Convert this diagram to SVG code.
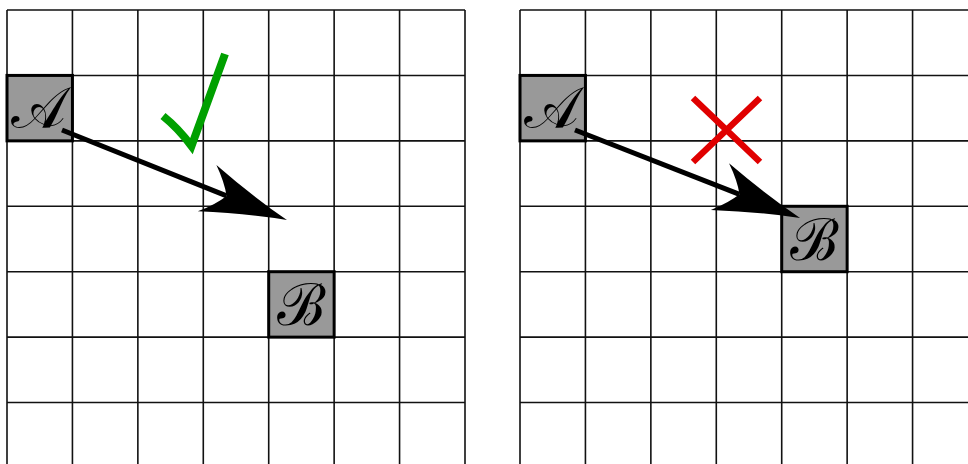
<svg xmlns="http://www.w3.org/2000/svg" width="968" height="464" viewBox="0 0 968 464">
<style>
.grid{fill:none;stroke:#111;stroke-width:1.6}
.node rect{fill:#999;stroke:#000;stroke-width:3}
.node text{font-family:"DejaVu Serif","Liberation Serif",serif;font-size:58px;text-anchor:middle;dominant-baseline:central;fill:#000}
.conn{fill:none;stroke:#000;stroke-width:5}
</style>
<defs>
<marker id="head" markerUnits="userSpaceOnUse" viewBox="-90 -30 95 60" markerWidth="95" markerHeight="60" refX="-65" refY="0" orient="auto" overflow="visible">
<path d="M0,0 Q-40,-9 -86,-25 Q-72,-12 -65,0 Q-72,12 -86,25 Q-40,9 0,0 Z" fill="#000"/>
</marker>
</defs>
<rect width="968" height="464" fill="#fff"/>
<g id="grid-left" class="grid">
<path d="M7,10V464M72.43,10V464M137.86,10V464M203.29,10V464M268.71,10V464M334.14,10V464M399.57,10V464M465,10V464"/>
<path d="M7,10H465M7,75.43H465M7,140.86H465M7,206.29H465M7,271.71H465M7,337.14H465M7,402.57H465"/>
</g>
<g id="grid-right" class="grid">
<path d="M520,10V464M585.43,10V464M650.86,10V464M716.29,10V464M781.71,10V464M847.14,10V464M912.57,10V464"/>
<path d="M520,10H968M520,75.43H968M520,140.86H968M520,206.29H968M520,271.71H968M520,337.14H968M520,402.57H968"/>
</g>
<g id="nodeA-left" class="node"><rect x="7" y="75.43" width="65.43" height="65.43"/><text x="38" y="108">𝒜</text></g>
<g id="nodeB-left" class="node"><rect x="268.71" y="271.71" width="65.43" height="65.43"/><text x="301.5" y="305">ℬ</text></g>
<g id="nodeA-right" class="node"><rect x="520" y="75.43" width="65.43" height="65.43"/><text x="551" y="108">𝒜</text></g>
<g id="nodeB-right" class="node"><rect x="781.71" y="206.29" width="65.43" height="65.43"/><text x="814.5" y="239.5">ℬ</text></g>
<g id="connectors">
<path class="conn" d="M62,130L226.6,195.9" marker-end="url(#head)"/>
<path class="conn" d="M575,130L739.5,194.3" marker-end="url(#head)"/>
</g>
<g id="check"><path d="M163,116 Q178,128 191.5,146 L225,54" fill="none" stroke="#00a000" stroke-width="8" stroke-linejoin="miter"/></g>
<g id="cross" stroke="#e00000" stroke-width="6.5"><path d="M693,98L760,162M760,98L693,162"/></g>
</svg>
